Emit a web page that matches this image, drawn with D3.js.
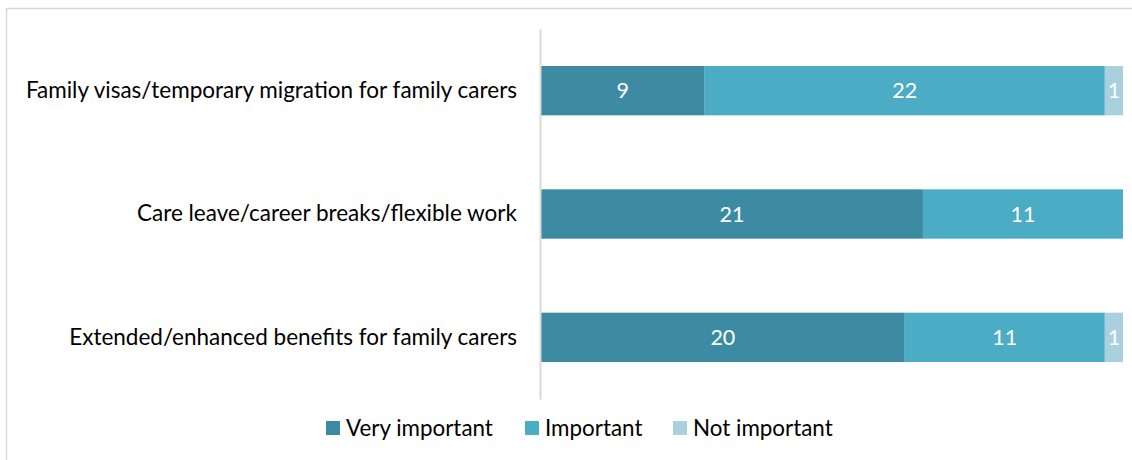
<!DOCTYPE html>
<html><head><meta charset="utf-8">
<script src="https://cdn.jsdelivr.net/npm/d3@7"></script>
<style>body{margin:0;background:#fff}svg{display:block}</style>
</head><body>
<svg id="c" width="1132" height="460"></svg>
<script>
const categories = ["Family visas/temporary migration for family carers","Care leave/career breaks/flexible work","Extended/enhanced benefits for family carers"];
const seriesNames = ["Very important","Important","Not important"];
const veryImportant = [9, 21, 20];
const important = [22, 11, 11];
const notImportant = [1, 0, 1];
const colors = ["#3D8BA2","#4BACC6","#A8D0DE"];

const svg = d3.select("#c");
const font = "Lato, Carlito, 'Open Sans', sans-serif";
svg.append("rect").attr("x",6.5).attr("y",8.5).attr("width",1140).attr("height",470)
  .attr("fill","none").attr("stroke","#d9d9d9").attr("stroke-width",1.5);

const x = d3.scaleLinear().domain([0,32]).range([541,1123]);
const y = d3.scaleBand().domain(categories).range([29,399]).paddingInner(0.6).paddingOuter(0.3);

const rows = categories.map((c,i)=>({cat:c, vals:[veryImportant[i],important[i],notImportant[i]]}));
const stackData = rows.map(r=>{const o={cat:r.cat}; seriesNames.forEach((s,j)=>o[s]=r.vals[j]); return o;});
const stack = d3.stack().keys(seriesNames)(stackData);

stack.forEach((layer,j)=>{
  const g = svg.append("g");
  layer.forEach(d=>{
    const v = d[1]-d[0];
    if(v<=0) return;
    g.append("rect").attr("x",x(d[0])).attr("y",y(d.data.cat))
      .attr("width",x(d[1])-x(d[0])).attr("height",y.bandwidth()).attr("fill",colors[j]);
    g.append("text").attr("x",(x(d[0])+x(d[1]))/2).attr("y",y(d.data.cat)+y.bandwidth()/2)
      .attr("dy","0.36em").attr("text-anchor","middle").attr("fill","#fff")
      .attr("font-family",font).attr("font-size",21.5).text(v);
  });
});

// axis
const axis = d3.axisLeft(y).tickSize(0).tickPadding(23);
const ag = svg.append("g").attr("transform","translate(540,0)").call(axis);
ag.select(".domain").attr("stroke","#d9d9d9").attr("stroke-width",2);
ag.selectAll("text").attr("font-family",font).attr("font-size",22.5).attr("fill","#000");

// legend
const legX = [326, 525, 673];
const lg = svg.append("g");
seriesNames.forEach((s,j)=>{
  lg.append("rect").attr("x",legX[j]).attr("y",421).attr("width",14).attr("height",14).attr("fill",colors[j]);
  lg.append("text").attr("x",legX[j]+20).attr("y",428).attr("dy","0.36em")
    .attr("font-family",font).attr("font-size",22.4).attr("fill","#000").text(s);
});
</script>
</body></html>
